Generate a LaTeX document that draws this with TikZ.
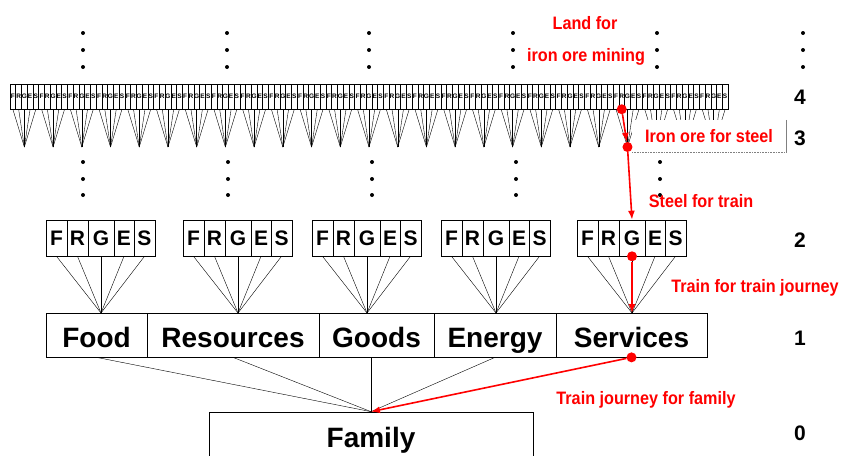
\documentclass[tikz,border=0pt]{standalone}
\usepackage{fontspec}
\setmainfont{Liberation Sans}
\newfontfamily\narrowsans[FakeStretch=0.9]{Liberation Sans}
\usetikzlibrary{arrows.meta}
\begin{document}
\begin{tikzpicture}
	  [
	    x                   = 1pt,
	    y                   = -1pt,
	    every node/.style   = {font=\bfseries, inner sep=0pt},
	    tinycell/.style     = {draw, line width=0.5pt, minimum width=5.744pt, minimum height=25pt, font=\bfseries\fontsize{6.5}{6.5}\selectfont},
	    cell/.style         = {draw, line width=0.6pt, minimum height=36pt, font=\bfseries\fontsize{21}{21}\selectfont},
	    sector/.style       = {draw, line width=0.7pt, minimum height=44pt, text height=28pt, text depth=4pt, font=\bfseries\fontsize{28}{28}\selectfont},
	    levelno/.style      = {font=\bfseries\fontsize{21}{21}\selectfont},
	    flow/.style         = {red, line width=1.6pt, -{Latex[length=9pt,width=7pt]}},
	    reddot/.style       = {circle, fill=red, minimum size=10pt},
	    redlabel/.style     = {red, font=\narrowsans\bfseries\fontsize{18}{18}\selectfont}
	  ]
	  \clip (0,0) rectangle (842,455);
	  \foreach \g in {0,...,24} {
	    \foreach \c [count=\i] in {F,R,G,E,S}
	      \node[tinycell] (t\g-\i) at ({10+28.72*\g+5.744*(\i-0.5)},96.5) {\c};
	    \coordinate (ta\g) at ({10+28.72*(\g+0.5)},147);
	    \foreach \i in {1,...,5}
	      \draw (t\g-\i.south) -- (ta\g);
	  }
	  \draw[line width=1pt] (10,84) rectangle (728,109);
	  \foreach \x in {83,227,369,513,657,803}
	    \foreach \y in {33,50,67}
	      \fill (\x,\y) circle (2pt);
	  \foreach \x in {83,228,372,516,660}
	    \foreach \y in {162,179,195}
	      \fill (\x,\y) circle (2pt);
	  \foreach \l [count=\k] in {46,183,312,441,577} {
	    \foreach \c/\o/\w [count=\i] in {F/0/21,R/21/21,G/42/26,E/68/20,S/88/21}
	      \node[cell, minimum width=\w] (g\k-\i) at (\l+\o+\w/2,238) {\c};
	    \coordinate (ga\k) at (\l+55,313);
	    \foreach \i in {1,...,5}
	      \draw (g\k-\i.south) -- (ga\k);
	  }
	  \foreach \name/\l/\r [count=\k] in {Food/46/147,Resources/147/319,Goods/319/434,Energy/434/556,Services/556/707}
	    \node[sector, minimum width=\r-\l] (s\k) at ({(\l+\r)/2},335) {\name};
	  \node[sector, minimum width=324, minimum height=52, text height=22pt, text depth=4pt] (family) at (371,438) {Family};
	  \foreach \k in {1,2,4}
	    \draw (s\k.south) -- (family.north);
	  \draw (s3.south -| family.north) -- (family.north);
	  \foreach \n/\y in {4/97,3/138,2/240,1/338,0/433}
	    \node[levelno] (lv\n) at (800,\y) {\n};
	  \node[redlabel, fill=white, minimum width=154, minimum height=32] (ironlbl) at (709,136) {Iron ore for steel};
	  \draw[gray, line width=0.5pt] (ironlbl.north east) -- (ironlbl.south east);
	  \draw[gray, densely dotted, line width=0.6pt] (ironlbl.south east) -- (ironlbl.south west);
	  \node[reddot] (d1) at (t21-2.south) {};
	  \node[reddot] (d2) at (ta21) {};
	  \draw[flow] (d1) -- (d2);
	  \draw[flow] (d2) -- (g5-3.north);
	  \node[reddot] (d3) at (g5-3.south) {};
	  \draw[flow] (d3) -- (ga5);
	  \node[reddot] (d4) at (s5.south) {};
	  \draw[flow] (d4) -- (family.north);
	  \node[redlabel] (landlbl) at (585,23) {Land for};
	  \node[redlabel] (minelbl) at (586,57) {iron ore mining};
	  \node[redlabel] (steellbl) at (701,201) {Steel for train};
	  \node[redlabel] (trainlbl) at (755,288) {Train for train journey};
	  \node[redlabel] (journeylbl) at (646,400) {Train journey for family};
	\end{tikzpicture}
\end{document}
